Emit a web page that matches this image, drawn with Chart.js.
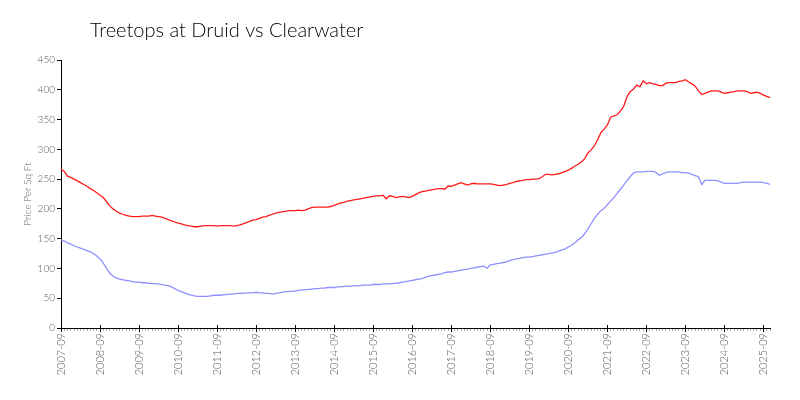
<!DOCTYPE html>
<html><head><meta charset="utf-8">
<script src="https://cdn.jsdelivr.net/npm/chart.js@4"></script>
<style>html,body{margin:0;padding:0;background:#fff}#wrap{width:800px;height:400px}</style>
</head><body><div id="wrap"><canvas id="c" width="800" height="400"></canvas></div>
<script>
const chartTitle = "Treetops at Druid vs Clearwater";
const yAxisTitle = "Price Per Sq Ft";
const firstMonth = "2007-09";
const tickLabels = ["2007-09","2008-09","2009-09","2010-09","2011-09","2012-09","2013-09","2014-09","2015-09","2016-09","2017-09","2018-09","2019-09","2020-09","2021-09","2022-09","2023-09","2024-09","2025-09"];
const yTickValues = [0,50,100,150,200,250,300,350,400,450];

const druidValues = [
267,263,255,253,250,247,244,241,238,234,231,227,
223,219,212,205,200,196,193,191,189,188,187,187,
187,188,188,188,189,188,187,186,184,182,180,178,
176,175,173,172,171,170,170,171,172,172,172,172,
171,172,172,172,172,171,172,173,175,177,179,181,
182,184,186,187,189,191,193,194,195,196,197,197,
197,198,197,198,200,202,203,203,203,203,203,204,
206,208,210,211,213,214,215,216,217,218,219,220,
221,222,222,223,217,222,221,219,220,221,220,219,
221,224,227,229,230,231,232,233,234,234,233,238,
238,240,242,244,242,240,242,243,242,242,242,242,
242,241,240,239,240,241,243,244,246,247,248,249,
249,250,250,251,254,258,258,257,258,259,261,263,
265,268,272,275,279,284,294,299,306,316,328,334,
341,354,356,358,364,372,388,397,401,408,405,415,
410,412,410,409,407,407,411,412,412,412,414,415,
417,413,410,406,398,392,394,396,398,398,398,396,
394,395,396,397,398,398,398,397,394,395,396,394,
391,389,387];

const clearwaterValues = [
148,146,143,141,138,136,134,132,130,128,125,121,
116,109,100,92,87,84,82,81,80,79,78,77,
77,76,76,75,75,74,74,73,72,71,69,66,
63,61,59,57,55,54,53,53,53,53,54,55,
55,55,56,56,57,57,58,58,58,59,59,59,
60,59,59,58,58,57,58,59,60,61,61,62,
62,63,64,64,65,65,66,66,67,67,68,68,
68,69,69,70,70,70,71,71,71,72,72,72,
73,73,73,74,74,74,75,75,76,77,78,79,
80,81,82,83,85,87,88,89,90,91,93,94,
94,95,96,97,98,99,100,101,102,103,104,100,
106,107,108,109,110,111,113,115,116,117,118,119,
119,120,121,122,123,124,125,126,127,129,131,133,
136,139,143,148,152,158,166,175,184,191,197,201,
207,213,219,226,233,240,247,254,260,262,262,262,
263,263,263,261,256,259,261,262,262,262,262,261,
261,260,258,256,254,241,248,248,248,248,247,245,
243,243,243,243,243,244,245,245,245,245,245,245,
244,243,241];

// month category labels
const months = [];
{
  let y = parseInt(firstMonth.slice(0,4)), m = parseInt(firstMonth.slice(5,7));
  for (let i = 0; i < druidValues.length; i++) {
    months.push(y + "-" + String(m).padStart(2,"0"));
    m++; if (m > 12) { m = 1; y++; }
  }
}

const FONT = "Lato";

const titlePlugin = {
  id: "titleText",
  afterDraw(chart) {
    const ctx = chart.ctx;
    ctx.save();
    ctx.font = "300 20px " + FONT;
    ctx.fillStyle = "#000";
    ctx.textBaseline = "alphabetic";
    ctx.fillText(chartTitle, 90, 37);
    ctx.restore();
  }
};

const majorTickPlugin = {
  id: "majorTicks",
  afterDraw(chart) {
    const xs = chart.scales.x, ctx = chart.ctx;
    const b = chart.chartArea.bottom;
    ctx.save();
    ctx.strokeStyle = "#000";
    ctx.lineWidth = 1;
    months.forEach((lab, i) => {
      if (tickLabels.includes(lab)) {
        const px = Math.round(xs.getPixelForValue(i)) + 0.5;
        ctx.beginPath(); ctx.moveTo(px, b - 3); ctx.lineTo(px, b + 4); ctx.stroke();
      }
    });
    ctx.restore();
  }
};

new Chart(document.getElementById("c"), {
  type: "line",
  data: {
    labels: months,
    datasets: [
      { label: "Treetops at Druid", data: druidValues, borderColor: "#ff1a1a", borderWidth: 1.3, pointRadius: 0, tension: 0 },
      { label: "Clearwater", data: clearwaterValues, borderColor: "#8f8fff", borderWidth: 1.3, pointRadius: 0, tension: 0 }
    ]
  },
  options: {
    responsive: false,
    animation: false,
    devicePixelRatio: 1,
    layout: { padding: { top: 60, right: 30, left: 0, bottom: 0 } },
    plugins: { legend: { display: false }, title: { display: false }, tooltip: { enabled: false } },
    scales: {
      x: {
        type: "category",
        offset: false,
        border: { display: true, color: "#000", width: 1 },
        grid: {
          drawOnChartArea: false, drawTicks: true, tickLength: 3,
          color: (c) => (c.tick && tickLabels.includes(months[c.index])) ? "#000" : "#aaa"
        },
        ticks: {
          autoSkip: false, minRotation: 90, maxRotation: 90, padding: 2,
          color: "#555", font: { family: FONT, size: 11, weight: 300 },
          callback: (v, i) => tickLabels.includes(months[i]) ? months[i] : ""
        },
        afterFit: (s) => { s.height = 72; }
      },
      y: {
        min: 0, max: 450,
        border: { display: true, color: "#000", width: 1 },
        grid: { drawOnChartArea: false, drawTicks: true, tickLength: 4, color: "#000" },
        afterBuildTicks: (s) => { s.ticks = yTickValues.map(v => ({ value: v })); },
        ticks: { color: "#555", padding: 2, font: { family: FONT, size: 10, weight: 300 } },
        title: { display: true, text: yAxisTitle, color: "#666", font: { family: FONT, size: 10, weight: 300 }, padding: { top: 22, bottom: 0 } },
        afterFit: (s) => { s.width = 61; }
      }
    }
  },
  plugins: [titlePlugin, majorTickPlugin]
});
</script>
</body></html>
